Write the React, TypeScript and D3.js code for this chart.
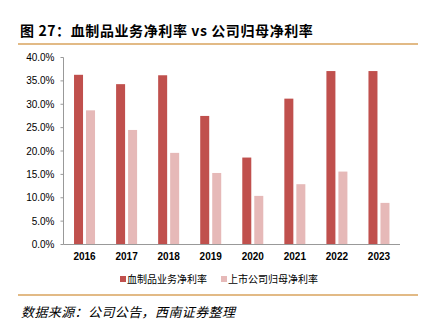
import React from "react";
import * as d3 from "d3";

const years = ["2016", "2017", "2018", "2019", "2020", "2021", "2022", "2023"];
const bloodProductMargin = [36.3, 34.3, 36.2, 27.5, 18.6, 31.2, 37.1, 37.1];
const parentNetMargin = [28.7, 24.5, 19.6, 15.3, 10.4, 12.9, 15.6, 8.9];
const yTicks = [0, 5, 10, 15, 20, 25, 30, 35, 40];
const seriesNames = ["血制品业务净利率", "上市公司归母净利率"];
const colors = ["#c0504d", "#e6b9b8"];

const W = 424;
const H = 326;
const left = 63.5;
const right = 400;
const top = 57.5;
const bottom = 244.5;

export default function App() {
  const x = d3.scaleBand<string>().domain(years).range([left, right]).paddingInner(0).paddingOuter(0);
  const y = d3.scaleLinear().domain([0, 40]).range([bottom, top]);
  const bw = 9;
  const gap = 3;
  const font = "Liberation Sans, Arial, sans-serif";
  const cjk = "'Noto Sans CJK SC', sans-serif";
  return (
    <svg width={W} height={H} style={{ position: "absolute", left: 0, top: 0, background: "#fff" }}>
      <text x={20} y={35.5} fontFamily={cjk} fontWeight="bold" fontSize={14} letterSpacing={0.6} fill="#000">
        图 27：血制品业务净利率 vs 公司归母净利率
      </text>
      <line x1={18} x2={418} y1={44} y2={44} stroke="#d8a35e" strokeWidth={1.5} />
      {yTicks.map((t) => (
        <g key={t}>
          <line x1={left - 3} x2={left} y1={y(t)} y2={y(t)} stroke="#999" />
          <text x={54.5} y={y(t) + 3.5} textAnchor="end" fontFamily={font} fontSize={10} fill="#000">
            {t.toFixed(1)}%
          </text>
        </g>
      ))}
      {years.map((yr, i) => {
        const cx = (x(yr) as number) + x.bandwidth() / 2;
        return (
          <g key={yr}>
            <rect x={cx - gap / 2 - bw} y={y(bloodProductMargin[i])} width={bw} height={bottom - y(bloodProductMargin[i])} fill={colors[0]} />
            <rect x={cx + gap / 2} y={y(parentNetMargin[i])} width={bw} height={bottom - y(parentNetMargin[i])} fill={colors[1]} />
            <text x={cx} y={259.5} textAnchor="middle" fontFamily={font} fontWeight="bold" fontSize={10} fill="#000">
              {yr}
            </text>
          </g>
        );
      })}
      <line x1={left} x2={left} y1={top} y2={bottom} stroke="#999" />
      <line x1={left} x2={right} y1={bottom} y2={bottom} stroke="#999" />
      {seriesNames.map((n, i) => {
        const lx = i === 0 ? 120 : 221;
        return (
          <g key={n}>
            <rect x={lx} y={276} width={6} height={6} fill={colors[i]} />
            <text x={lx + 7} y={282.5} fontFamily={cjk} fontSize={10} fill="#000">
              {n}
            </text>
          </g>
        );
      })}
      <line x1={18} x2={418} y1={295} y2={295} stroke="#d8a35e" strokeWidth={1.5} />
      <text x={21} y={317} fontFamily={cjk} fontStyle="italic" fontSize={13} letterSpacing={0.4} fill="#000">
        数据来源：公司公告，西南证券整理
      </text>
    </svg>
  );
}
